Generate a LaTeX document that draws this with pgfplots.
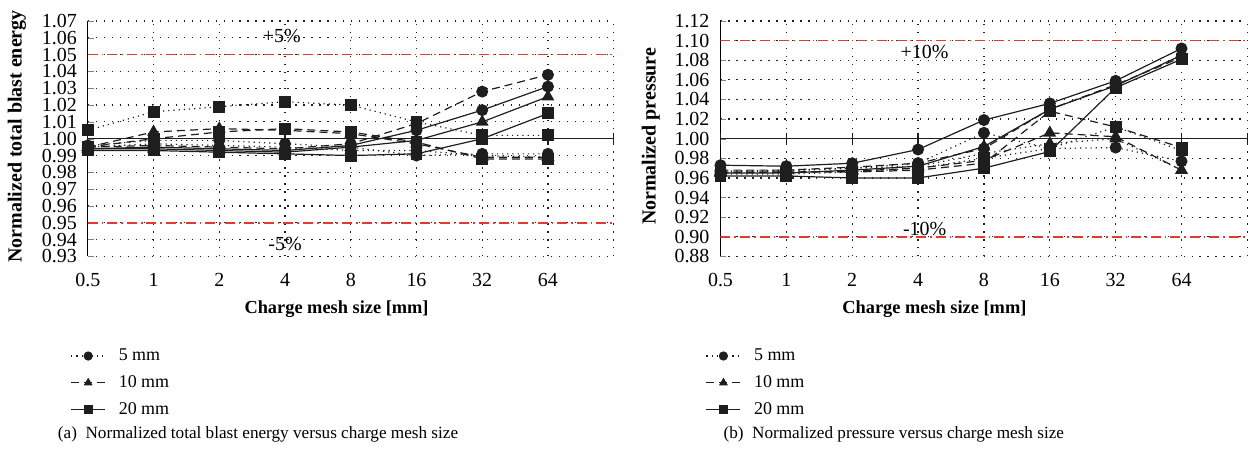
\documentclass[border=0pt]{standalone}
\usepackage{pgfplots}
\usepackage{pgfplotstable}
\usepackage{fontspec}
\setmainfont{Liberation Serif}
\pgfplotsset{compat=1.18}

% columns: c = circle, t = triangle, s = square; 1 dotted, 2 dashed, 3 solid
\pgfplotstableread{
x c1 c2 c3 t1 t2 t3 s1 s2 s3
0 0.996 0.995 0.994 0.995 0.995 0.994 1.005 0.995 0.993
1 0.999 0.996 0.995 0.997 1.004 0.994 1.016 1.000 0.993
2 0.999 0.995 0.994 0.996 1.006 0.993 1.019 1.004 0.992
3 0.997 0.994 0.993 0.995 1.005 0.992 1.022 1.006 0.991
4 0.995 0.997 0.996 0.993 1.003 0.995 1.020 1.004 0.990
5 0.990 1.009 1.005 0.993 0.997 0.999 1.010 0.998 0.991
6 0.991 1.028 1.017 0.990 0.989 1.010 1.002 0.988 1.000
7 0.991 1.038 1.031 0.989 0.989 1.025 1.002 0.988 1.015
}\energy

\pgfplotstableread{
x c1 c2 c3 t1 t2 t3 s1 s2 s3
0 0.966 0.968 0.973 0.967 0.966 0.965 0.964 0.965 0.962
1 0.967 0.968 0.972 0.968 0.966 0.965 0.964 0.966 0.962
2 0.970 0.971 0.975 0.970 0.967 0.968 0.966 0.966 0.960
3 0.975 0.975 0.989 0.972 0.970 0.972 0.970 0.968 0.960
4 1.006 0.990 1.019 0.985 0.978 0.992 0.980 0.975 0.970
5 0.990 1.030 1.036 0.995 1.006 1.030 0.990 1.028 0.987
6 0.991 1.055 1.059 1.000 1.002 1.054 1.012 1.012 1.052
7 0.977 1.083 1.092 0.968 0.968 1.085 0.988 0.991 1.081
}\pressure

\definecolor{refred}{HTML}{E23A32}
\definecolor{ink}{HTML}{1E1E1E}

\pgfplotsset{
  panel/.style={
    scale only axis, width=263.5pt, height=118pt,
    xmin=0, xmax=8, xtick={0,...,8},
    xticklabels={0.5,1,2,4,8,16,32,64,},
    axis x line=bottom, axis y line=left, axis line style={-},
    x axis line style={draw=none},
    major x tick style={draw=none},
    tick align=inside, major tick length=3pt,
    grid=major,
    major grid style={ink, line width=0.6pt, dash pattern=on 0.6pt off 3.4pt},
    tick label style={font=\fontsize{10}{12}\selectfont},
    yticklabel style={xshift=-2pt},
    xticklabel style={yshift=-5pt},
    /pgf/number format/assume math mode=true,
    yticklabel style={/pgf/number format/.cd, fixed, fixed zerofill, precision=2},
    xlabel style={font=\bfseries\fontsize{9.2}{11}\selectfont, anchor=center},
    ylabel style={font=\bfseries\fontsize{10}{12}\selectfont, anchor=center},
    mark size=2.7pt,
    legend cell align=left,
    legend style={draw=none, fill=none, anchor=north west,
      font=\fontsize{9}{11}\selectfont, row sep=3pt,
      nodes={inner sep=1.5pt},
      /tikz/every odd column/.append style={column sep=5pt}},
    legend image post style={mark size=2pt},
  },
  dot/.style={ink, line width=0.6pt, dash pattern=on 0.6pt off 2pt},
  dsh/.style={ink, line width=0.6pt, dash pattern=on 4pt off 2.5pt},
  sol/.style={ink, line width=0.6pt, solid},
  circ/.style={mark=*, mark options={solid, fill=ink}},
  tri/.style={mark=triangle*, mark options={solid, fill=ink}, mark size=3.1pt},
  squ/.style={mark=square*, mark options={solid, fill=ink}},
  bound/.style={refred, line width=0.8pt, dash pattern=on 5pt off 2pt on 0.8pt off 2pt},
}

\begin{document}
\begin{tikzpicture}
\path (0,0) rectangle (627pt,228.5pt);

% ---------- panel (a)
\begin{axis}[panel, at={(44pt,100pt)}, anchor=south west,
  ymin=0.93, ymax=1.07, ytick={0.93,0.94,...,1.075},
  xlabel={Charge mesh size [mm]},
  xlabel style={at={(axis description cs:0.473,-0.225)}},
  ylabel={Normalized total blast energy},
  ylabel style={at={(axis description cs:-0.135,0.51)}},
  legend style={at={(axis description cs:-0.045,-0.36)}}]
  \addplot[bound, forget plot] coordinates {(0,1.05) (8,1.05)};
  \addplot[bound, forget plot] coordinates {(0,0.95) (8,0.95)};
  \addplot[sol, mark=|, mark size=3pt, forget plot] coordinates {(0,1) (1,1) (2,1) (3,1) (4,1) (5,1) (6,1) (7,1) (8,1)};
  \addplot[dot, circ] table[y=c1] {\energy};
  \addplot[dsh, tri] table[y=t2] {\energy};
  \addplot[sol, squ] table[y=s3] {\energy};
  \addplot[dsh, circ, forget plot] table[y=c2] {\energy};
  \addplot[sol, circ, forget plot] table[y=c3] {\energy};
  \addplot[dot, tri, forget plot] table[y=t1] {\energy};
  \addplot[sol, tri, forget plot] table[y=t3] {\energy};
  \addplot[dot, squ, forget plot] table[y=s1] {\energy};
  \addplot[dsh, squ, forget plot] table[y=s2] {\energy};
  \legend{5 mm, 10 mm, 20 mm}
  \node[font=\fontsize{10}{12}\selectfont] at (axis cs:2.95,1.061) {+5\%};
  \node[font=\fontsize{10}{12}\selectfont] at (axis cs:3.0,0.9375) {-5\%};
\end{axis}

% ---------- panel (b)
\begin{axis}[panel, at={(361pt,100pt)}, anchor=south west, width=264pt,
  ymin=0.88, ymax=1.12, ytick={0.88,0.90,...,1.125},
  xlabel={Charge mesh size [mm]},
  xlabel style={at={(axis description cs:0.406,-0.225)}},
  ylabel={Normalized pressure},
  ylabel style={at={(axis description cs:-0.132,0.51)}},
  legend style={at={(axis description cs:-0.04,-0.36)}}]
  \addplot[bound, forget plot] coordinates {(0,1.10) (8,1.10)};
  \addplot[bound, forget plot] coordinates {(0,0.90) (8,0.90)};
  \addplot[sol, mark=|, mark size=3pt, forget plot] coordinates {(0,1) (1,1) (2,1) (3,1) (4,1) (5,1) (6,1) (7,1) (8,1)};
  \addplot[dot, circ] table[y=c1] {\pressure};
  \addplot[dsh, tri] table[y=t2] {\pressure};
  \addplot[sol, squ] table[y=s3] {\pressure};
  \addplot[dsh, circ, forget plot] table[y=c2] {\pressure};
  \addplot[sol, circ, forget plot] table[y=c3] {\pressure};
  \addplot[dot, tri, forget plot] table[y=t1] {\pressure};
  \addplot[sol, tri, forget plot] table[y=t3] {\pressure};
  \addplot[dot, squ, forget plot] table[y=s1] {\pressure};
  \addplot[dsh, squ, forget plot] table[y=s2] {\pressure};
  \legend{5 mm, 10 mm, 20 mm}
  \node[font=\fontsize{10}{12}\selectfont] at (axis cs:3.1,1.088) {+10\%};
  \node[font=\fontsize{10}{12}\selectfont] at (axis cs:3.1,0.908) {-10\%};
\end{axis}

\node[anchor=west, font=\fontsize{8.6}{10}\selectfont] at (25.5pt,11pt)
  {(a)\enspace Normalized total blast energy versus charge mesh size};
\node[anchor=west, font=\fontsize{8.6}{10}\selectfont] at (359pt,11pt)
  {(b)\enspace Normalized pressure versus charge mesh size};
\end{tikzpicture}
\end{document}
